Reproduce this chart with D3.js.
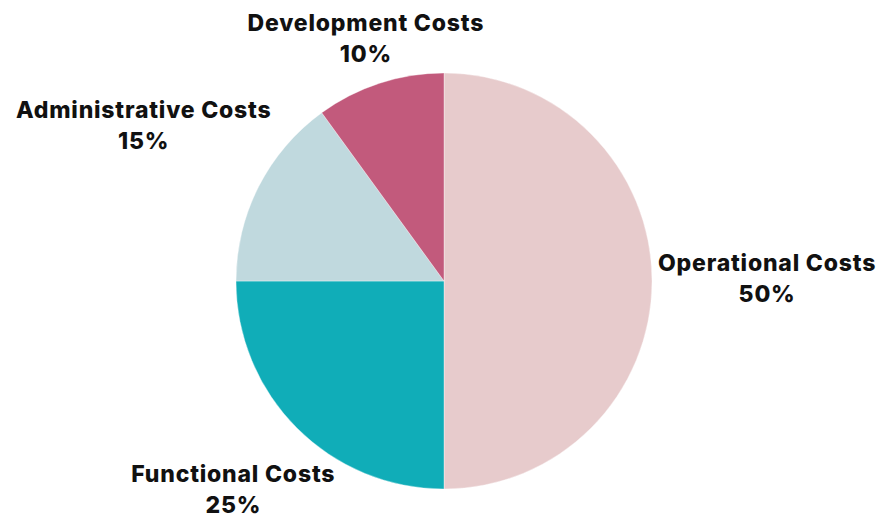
<!DOCTYPE html>
<html>
<head>
<meta charset="utf-8">
<script src="https://cdn.jsdelivr.net/npm/d3@7"></script>
<style>
  html, body { margin: 0; padding: 0; background: #fff; }
  svg { display: block; }
  text { font-family: Inter, "Open Sans", sans-serif; font-weight: 800; fill: #111; letter-spacing: 0.8px; }
</style>
</head>
<body>
<div id="chart"></div>
<script>
// data
const categories = ['Operational Costs', 'Functional Costs', 'Administrative Costs', 'Development Costs'];
const shares = [50, 25, 15, 10];
const colors = ['#e7cbcc', '#10adb8', '#c0d9de', '#c25a7c'];

const W = 882, H = 517;
const cx = 444, cy = 281, R = 208;
const gap = 6;
const fontSize = 23, lineH = 31;

const svg = d3.select('#chart').append('svg')
  .attr('width', W).attr('height', H);

const g = svg.append('g').attr('transform', `translate(${cx},${cy})`);

const data = categories.map((c, i) => ({ name: c, value: shares[i], color: colors[i] }));

const pie = d3.pie().value(d => d.value).sort(null);
const arc = d3.arc().innerRadius(0).outerRadius(R);
const arcs = pie(data);

g.selectAll('path.slice')
  .data(arcs)
  .join('path')
  .attr('class', 'slice')
  .attr('d', arc)
  .attr('fill', d => d.data.color)
  .attr('stroke', '#fff')
  .attr('stroke-width', 0.6)
  .attr('stroke-opacity', 0.6);

// labels: two lines, pushed out along mid-angle until the box clears the pie
const labels = g.selectAll('g.lbl')
  .data(arcs)
  .join('g')
  .attr('class', 'lbl');

labels.append('text')
  .attr('text-anchor', 'middle')
  .attr('font-size', fontSize)
  .attr('y', -lineH / 2)
  .attr('dy', '0.26em')
  .text(d => d.data.name);

labels.append('text')
  .attr('text-anchor', 'middle')
  .attr('font-size', fontSize)
  .attr('y', lineH / 2)
  .attr('dy', '0.26em')
  .text(d => d.data.value + '%');

labels.each(function(d) {
  const bb = this.getBBox();
  const hw = bb.width / 2, hh = lineH;  // half height of the 2-line block
  const a = (d.startAngle + d.endAngle) / 2;
  const ux = Math.sin(a), uy = -Math.cos(a);
  const dist = t => {
    const x = ux * t, y = uy * t;
    const dx = Math.max(0, Math.abs(x) - hw);
    const dy = Math.max(0, Math.abs(y) - hh * 0.85);
    return Math.hypot(dx, dy);
  };
  let lo = 0, hi = 800;
  for (let i = 0; i < 40; i++) {
    const m = (lo + hi) / 2;
    if (dist(m) < R + gap) lo = m; else hi = m;
  }
  d3.select(this).attr('transform', `translate(${ux * hi},${uy * hi})`);
});
</script>
</body>
</html>
